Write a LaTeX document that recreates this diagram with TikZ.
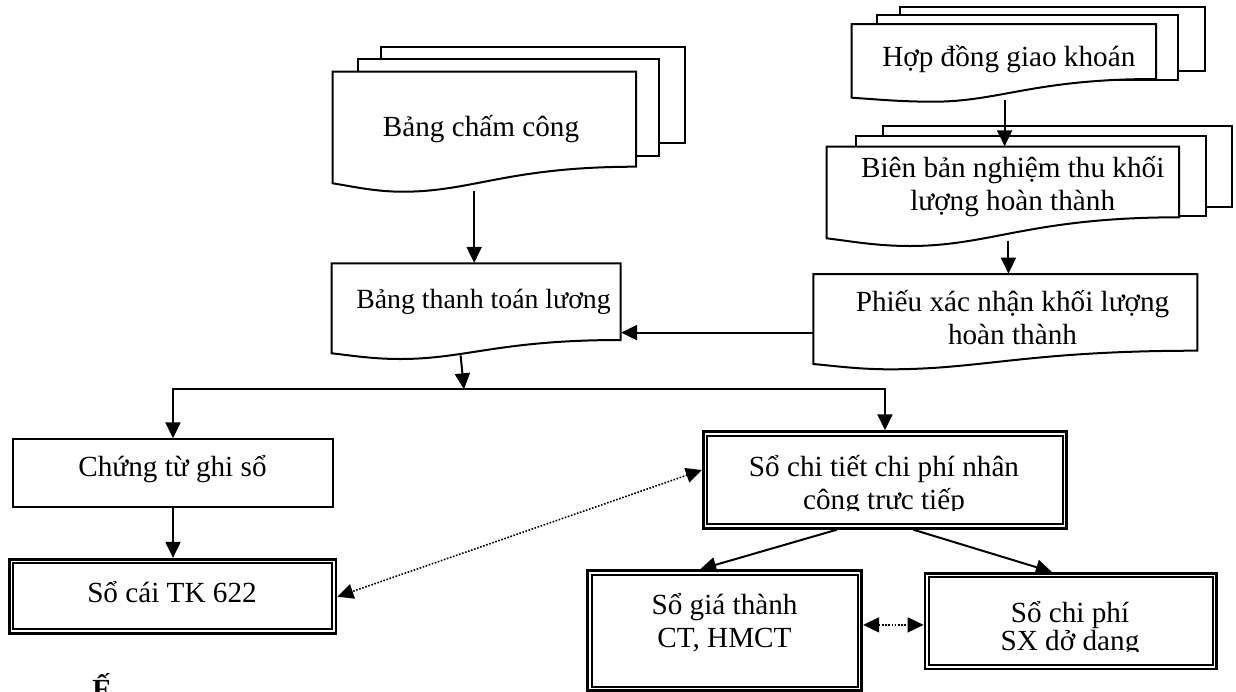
\documentclass[tikz,border=0pt]{standalone}
\usepackage{fontspec}
\setmainfont{Liberation Serif}
\usetikzlibrary{arrows.meta,calc,fit}

% front sheet of a document symbol: left, top, right, left-bottom, right-bottom, trough x, trough y
\newcommand{\docfront}[7]{%
  \draw[page] (#1,#2) -- (#3,#2) -- (#3,#5)
    .. controls ({#6+0.45*(#3-#6)},#5) and ({#6+0.3*(#3-#6)},#7) .. (#6,#7)
    .. controls ({#6-0.4*(#6-#1)},#7) and ({#1+0.3*(#6-#1)},{#4+0.4*(#7-#4)}) .. (#1,#4) -- cycle;}
% inner line of a ledger frame
\newcommand{\innerframe}[1]{%
  \draw[line width=1.05pt] ($(#1.north west)+(5.4,5.4)$) rectangle ($(#1.south east)+(-5.4,-5.4)$);}

\begin{document}
\begin{tikzpicture}[x=0.5pt,y=-0.5pt,
  page/.style={draw, fill=white, line width=1pt},
  arr/.style={line width=1pt, -{Triangle[length=8pt,width=7.5pt]}},
  dotarr/.style={line width=0.8pt, dash pattern=on 0.8pt off 0.8pt,
    {Triangle[length=8pt,width=7.5pt]}-{Triangle[length=8pt,width=7.5pt]}},
  txt/.style={font=\fontsize{14.6pt}{16.5pt}\selectfont, align=center, inner sep=0pt},
  area/.style={inner sep=0pt},
  plainbox/.style={draw, line width=1pt, inner sep=0pt},
  ledger/.style={draw, line width=1.4pt, inner sep=0pt}]

\path[use as bounding box] (0,0) rectangle (1236,691);
\clip (0,0) rectangle (1236,691);

% ---- Bảng chấm công (stack of sheets)
\draw[page] (381,46.7) rectangle (685,143.3);
\draw[page] (357.7,59.3) rectangle (659.3,155.7);
\docfront{332.7}{71.7}{636}{183.3}{166.7}{403}{191.7}
\node[area, fit={(332.7,71.7) (636,190.7)}] (bcc) {};
\node[txt, anchor=base] (bcc-t) at (481,136.7) {Bảng chấm công};

% ---- Hợp đồng giao khoán (stack of sheets)
\draw[page] (900,6.7) rectangle (1205,71);
\draw[page] (876.7,15) rectangle (1178.3,80);
\docfront{851.7}{24}{1156}{97.7}{79}{933}{101.7}
\node[area, fit={(851.7,24) (1156,99.5)}] (hd) {};
\node[txt, anchor=base] (hd-t) at (1008.8,66.7) {Hợp đồng giao khoán};

% ---- Biên bản nghiệm thu (stack of sheets)
\draw[page] (882.7,125.7) rectangle (1232,206.7);
\draw[page] (856,136) rectangle (1206,216);
\docfront{826.7}{146.7}{1179}{238.3}{217.3}{910}{246}
\node[area, fit={(826.7,146.7) (1179,240.5)}] (bb) {};
\node[txt, anchor=base] (bb-t) at (1012.7,210.5) {Biên bản nghiệm thu khối\\lượng hoàn thành};

% ---- Phiếu xác nhận khối lượng hoàn thành
\docfront{813.3}{274}{1197.3}{364}{350.7}{890}{369.3}
\node[area, fit={(813.3,274) (1197.3,364)}] (px) {};
\node[txt, anchor=base] (px-t) at (1012.5,344) {Phiếu xác nhận khối lượng\\hoàn thành};

% ---- Bảng thanh toán lương
\docfront{331.7}{263.3}{620.7}{353.3}{340}{400}{359}
\node[area, fit={(331.7,263.3) (620.7,355)}] (btt) {};
\node[txt, anchor=base, font=\fontsize{13.9pt}{16pt}\selectfont] (btt-t) at (483.5,308.3) {Bảng thanh toán lương};

% ---- Chứng từ ghi sổ
\node[plainbox, fit={(12.7,439.3) (333.3,507.3)}] (ct) {};
\node[txt, anchor=base] (ct-t) at (172.5,476.7) {Chứng từ ghi sổ};

% ---- Sổ cái TK 622
\node[ledger, fit={(9.3,559.3) (336,633.3)}] (sc) {};
\innerframe{sc}
\node[txt, anchor=base] (sc-t) at (172,602.7) {Sổ cái TK 622};

% ---- Sổ chi tiết chi phí nhân công trực tiếp
\node[ledger, fit={(703.3,431.7) (1066.7,528.3)}] (sct) {};
\innerframe{sct}
\begin{scope}
  \clip (700,430) rectangle (1070,510.5);
  \node[txt, anchor=base] (sct-t) at (884,509) {Sổ chi tiết chi phí nhân\\công trực tiếp};
\end{scope}

% ---- Sổ giá thành CT, HMCT
\node[ledger, fit={(587.7,570.7) (861.7,690.7)}] (sgt) {};
\innerframe{sgt}
\node[txt, anchor=base] (sgt-t) at (724.5,647) {Sổ giá thành\\CT, HMCT};

% ---- Sổ chi phí SX dở dang
\node[ledger, fit={(925,573.3) (1216.7,669)}] (scp) {};
\innerframe{scp}
\begin{scope}
  \clip (920,570) rectangle (1220,651.8);
  \node[txt, anchor=base, font=\fontsize{14.6pt}{13pt}\selectfont] (scp-t) at (1070,650.5) {Sổ chi phí\\SX dở dang};
\end{scope}

% ---- connectors
\coordinate (split) at (464,389.3);
\draw[arr] ([xshift=-5.1pt]bcc.south) -- ([xshift=-5.1pt]bcc.south |- btt.north);
\draw[arr] ([xshift=0.4pt]hd.south) -- ([xshift=0.4pt]hd.south |- bb.north);
\draw[arr] ([xshift=2.8pt]bb.south) -- ([xshift=2.8pt]bb.south |- px.north);
\draw[arr] ([yshift=-6.8pt]px.west) -- ([yshift=-6.8pt]px.west -| btt.east);
\draw[arr] ([xshift=-7.8pt]btt.south) -- (split);
\draw[line width=1pt] (split) -- (split -| sct.north);
\draw[arr] (split) -| (ct.north);
\draw[arr] (split) -| (sct.north);
\draw[arr] (ct.south) -- (ct.south |- sc.north);
\draw[dotarr] ([yshift=5pt]sct.west) -- ([yshift=-0.2pt]sc.east);
\draw[arr] ([xshift=-24.1pt]sct.south) -- ([xshift=-12.3pt]sgt.north);
\draw[arr] ([xshift=14.2pt]sct.south) -- ([xshift=-9.5pt]scp.north);
\draw[dotarr] ([yshift=2.9pt]sgt.east) -- ([yshift=2.9pt]sgt.east -| scp.west);

% ---- heading line starting below the page edge
\node[anchor=base, font=\fontsize{14.6pt}{16pt}\selectfont\bfseries, inner sep=0pt] (head) at (102,699) {Ế};

\end{tikzpicture}
\end{document}
